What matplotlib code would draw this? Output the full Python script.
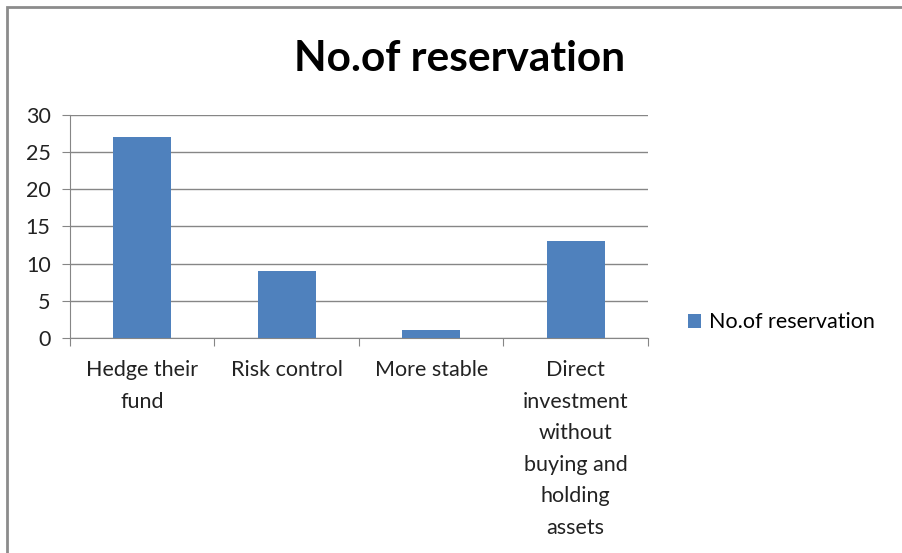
import matplotlib.pyplot as plt
from matplotlib.patches import Rectangle

categories = ["Hedge their\nfund", "Risk control", "More stable",
              "Direct\ninvestment\nwithout\nbuying and\nholding\nassets"]
values = [27, 9, 1, 13]
series_name = "No.of reservation"
yticks = [0, 5, 10, 15, 20, 25, 30]

bar_color = "#4F81BD"
line_color = "#868686"
font = ["Lato", "DejaVu Sans"]

fig = plt.figure(figsize=(9.02, 5.53), dpi=100)
ax = fig.add_axes([0.0776, 0.389, 0.6408, 0.403])

x = range(len(categories))
bars = ax.bar(x, values, width=0.4, color=bar_color, zorder=3, label=series_name)

ax.set_xlim(-0.5, len(categories) - 0.5)
ax.set_ylim(0, 30)
ax.set_yticks(yticks)
ax.set_yticklabels([str(v) for v in yticks], fontsize=15.5, family=font, color="#222222")
ax.yaxis.grid(True, color=line_color, linewidth=1, zorder=0)

# category labels sit between the boundary ticks
ax.set_xticks([i - 0.5 for i in range(len(categories) + 1)])
ax.set_xticklabels([])
ax.set_xticks(list(x), minor=True)
ax.set_xticklabels(categories, minor=True, fontsize=15.5, family=font,
                   color="#222222", va="top", ha="center", linespacing=1.72)
ax.tick_params(axis="x", which="minor", length=0, pad=16)
ax.tick_params(axis="x", which="major", length=6, color=line_color, direction="out")
ax.tick_params(axis="y", length=6, color=line_color, direction="out", pad=8)

for side in ["top", "right"]:
    ax.spines[side].set_visible(False)
for side in ["left", "bottom"]:
    ax.spines[side].set_color(line_color)

fig.text(0.51, 0.893, series_name, ha="center", va="center",
         fontsize=30.5, fontweight="bold", family=font)

ax.legend(handles=[bars], loc="center left", bbox_to_anchor=(1.035, 0.07),
          frameon=False, prop={"family": font, "size": 15.5},
          handlelength=0.6, handleheight=0.6, handletextpad=0.4)

# outer chart frame
fig.patches.append(Rectangle((0.008, -0.05), 1.1, 1.037, transform=fig.transFigure,
                             fill=False, edgecolor="#8C8C8C", linewidth=2))

fig.savefig("out.png", dpi=100)
